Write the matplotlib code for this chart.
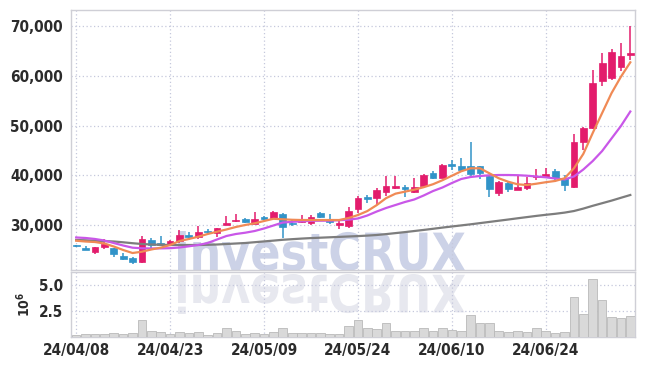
import numpy as np
import matplotlib
matplotlib.use("Agg")
from matplotlib import pyplot as plt
from matplotlib.textpath import TextPath
from matplotlib.patches import PathPatch
from matplotlib.font_manager import FontProperties
from matplotlib.transforms import Affine2D, IdentityTransform

# Dati (prezzi in KRW, volume in milioni)
tick_pos = [0, 10, 20, 30, 40, 50]
tick_labels = ["24/04/08", "24/04/23", "24/05/09", "24/05/24", "24/06/10", "24/06/24"]

opens = [25900, 25300, 24500, 25600, 25300, 23800, 23400, 22500, 27000, 26300,
         25900, 26800, 28000, 27500, 28800, 28400, 30000, 30750, 31300, 30300,
         31600, 31500, 32300, 30450, 30700, 30350, 32450, 31150, 30050, 29800,
         33200, 35700, 35350, 36550, 37500, 37700, 36700, 37900, 40400, 39500,
         42200, 41800, 41850, 41850, 39800, 36450, 38450, 37100, 37500, 39600,
         39650, 40900, 39400, 37650, 46650, 49450, 58850, 59500, 61850, 64200]
highs = [25950, 25700, 25600, 27100, 25400, 24300, 23500, 27700, 27400, 27800,
         26900, 29000, 28600, 29700, 29200, 29400, 31900, 32150, 31500, 32550,
         31800, 32800, 32400, 31000, 31950, 31950, 32600, 32150, 30800, 33550,
         35800, 36000, 37500, 39800, 39900, 38050, 39400, 40200, 40850, 42200,
         43050, 43400, 46750, 41900, 39900, 38800, 38550, 40050, 39700, 41200,
         41500, 41250, 40050, 48250, 49600, 61150, 64500, 65400, 66550, 70050]
lows = [25500, 24950, 24200, 25100, 23600, 22950, 22100, 22400, 25300, 25800,
        25800, 26300, 27000, 27100, 28100, 27650, 29900, 30550, 30500, 30200,
        31000, 31300, 27300, 29800, 30500, 29900, 31400, 30200, 29250, 29350,
        32350, 34500, 34000, 35900, 37200, 35700, 36500, 37800, 39200, 39400,
        41050, 40700, 39500, 39200, 35700, 35900, 36550, 37000, 37050, 38950,
        39600, 38700, 36850, 37350, 45050, 49300, 58000, 59150, 60950, 63150]
closes = [25700, 25000, 25500, 26100, 24100, 23100, 22500, 27200, 26000, 25900,
          26800, 28000, 27500, 28500, 28600, 29300, 30500, 31050, 30700, 31200,
          31200, 32700, 29600, 30150, 31000, 31550, 31550, 30550, 30350, 32750,
          35350, 35300, 37050, 37900, 37900, 37250, 37700, 40050, 39400, 42050,
          41850, 41000, 40250, 40400, 37250, 38600, 37300, 37650, 38450, 39850,
          40250, 39400, 38050, 46600, 49450, 58500, 62500, 64700, 63900, 64550]

ma_short = [26840, 26680, 26580, 26280, 25680, 24980, 24370, 24630, 25080, 25440,
            25980, 26780, 27190, 27650, 28190, 28650, 29100, 29600, 30000, 30340,
            30800, 31250, 31150, 31050, 31000, 31000, 31000, 31000, 31000, 31400,
            32000, 32800, 34000, 35400, 36300, 36700, 37100, 37600, 38200, 39000,
            39900, 40800, 41400, 41400, 40390, 39390, 38700, 38180, 38040, 38300,
            38600, 38850, 39390, 41400, 44300, 48500, 52500, 56500, 59800, 62700]
ma_mid = [27490, 27390, 27190, 26880, 26380, 25880, 25440, 25320, 25280, 25300,
          25340, 25480, 25720, 25980, 26380, 27090, 27790, 28190, 28450, 28790,
          29300, 29900, 30500, 30640, 30740, 30840, 30860, 30880, 30960, 31070,
          31310, 31910, 32710, 33420, 34020, 34620, 35130, 35930, 36830, 37540,
          38440, 39250, 39650, 39850, 39990, 40050, 40050, 40010, 39910, 39750,
          39590, 39350, 39150, 39750, 41160, 42860, 44870, 47390, 49900, 52810]
ma_long = [26985, 26925, 26845, 26765, 26685, 26525, 26340, 26180, 26080, 26020,
           25980, 25980, 25980, 25980, 26020, 26080, 26180, 26280, 26380, 26540,
           26700, 26860, 27030, 27150, 27270, 27370, 27450, 27530, 27610, 27690,
           27770, 27870, 27990, 28170, 28370, 28570, 28790, 29010, 29240, 29480,
           29700, 29920, 30140, 30380, 30620, 30860, 31100, 31350, 31590, 31830,
           32050, 32250, 32490, 32810, 33300, 33860, 34380, 34900, 35470, 36030]

volume = [0.16, 0.28, 0.28, 0.28, 0.38, 0.28, 0.38, 1.6, 0.6, 0.47,
          0.28, 0.47, 0.38, 0.47, 0.19, 0.38, 0.9, 0.62, 0.28, 0.38,
          0.28, 0.47, 0.9, 0.38, 0.38, 0.38, 0.38, 0.28, 0.28, 1.03,
          1.6, 0.84, 0.75, 1.31, 0.6, 0.6, 0.6, 0.9, 0.6, 0.84,
          0.69, 0.6, 2.16, 1.31, 1.4, 0.6, 0.5, 0.6, 0.5, 0.84,
          0.6, 0.38, 0.5, 3.84, 2.25, 5.6, 3.56, 1.97, 1.88, 2.06]


def main() -> None:

    W, H = 645, 366
    plt.rcParams["font.family"] = ["DejaVu Sans"]
    plt.rcParams["font.stretch"] = "condensed"
    plt.rcParams["font.weight"] = "bold"

    fig = plt.figure(figsize=(W / 100, H / 100), dpi=100)
    fig.patch.set_facecolor("white")

    ax = fig.add_axes([71 / W, 1 - 270 / H, 564 / W, 260 / H])
    axv = fig.add_axes([71 / W, 1 - 337 / H, 564 / W, 65 / H], sharex=ax)

    c_up = "#e31c6c"
    c_down = "#3193c8"
    grid_c = "#c5c8dc"
    spine_c = "#cfcfd6"
    txt_c = "#2b2b2b"

    # Watermark (dietro agli assi)
    fp = FontProperties(family="DejaVu Sans", weight="bold", stretch="normal")
    tp = TextPath((0, 0), "investCRUX", size=1, prop=fp)
    ext = tp.get_extents()
    sx = 287 / ext.width
    sy = 40 / ext.height
    x0 = 178 - ext.x0 * sx
    tr_main = Affine2D().scale(sx, sy).translate(x0, H - 271 - ext.y0 * sy)
    tr_refl = Affine2D().scale(sx, -sy).translate(x0, H - 274 + ext.y0 * sy)
    wm = PathPatch(tr_main.transform_path(tp), facecolor="#ccd2e7",
                   edgecolor="none", transform=IdentityTransform(), zorder=-2)
    wm2 = PathPatch(tr_refl.transform_path(tp), facecolor="#e7e8ef",
                    edgecolor="none", transform=IdentityTransform(), zorder=-2)
    fig.add_artist(wm)
    fig.add_artist(wm2)

    x = np.arange(len(closes))
    o = np.array(opens)
    c = np.array(closes)
    colors = [c_up if cc >= oo else c_down for oo, cc in zip(o, c)]

    # Candele
    ax.vlines(x, lows, highs, colors=colors, linewidth=1.1, zorder=3)
    bottoms = np.minimum(o, c)
    heights = np.maximum(np.abs(c - o), 180)
    ax.bar(x, heights, bottom=bottoms, width=0.72, color=colors,
           edgecolor=colors, linewidth=0.5, zorder=4)

    # Medie mobili
    ax.plot(x, ma_long, color="#7d7d7d", linewidth=1.6, zorder=5)
    ax.plot(x, ma_mid, color="#c957e8", linewidth=1.6, zorder=5)
    ax.plot(x, ma_short, color="#f08a55", linewidth=1.6, zorder=6)

    ax.set_xlim(-0.55, 59.5)
    ax.set_ylim(20955, 73216)
    ax.set_yticks([30000, 40000, 50000, 60000, 70000])
    ax.set_yticklabels(["30,000", "40,000", "50,000", "60,000", "70,000"])
    ax.set_xticks(tick_pos)
    ax.tick_params(axis="x", labelbottom=False, length=0)
    ax.tick_params(axis="y", length=0, pad=6, labelsize=11, labelcolor=txt_c)

    # Volume
    axv.bar(x, volume, width=0.92, color="#d9d9d9", edgecolor="#b9b9b9",
            linewidth=0.6, zorder=3)
    axv.set_ylim(0, 6.3)
    axv.set_yticks([2.5, 5.0])
    axv.set_yticklabels(["2.5", "5.0"])
    axv.set_xticks(tick_pos)
    axv.set_xticklabels(tick_labels)
    axv.tick_params(axis="both", length=0, labelsize=11, labelcolor=txt_c)
    axv.tick_params(axis="y", pad=6)
    axv.tick_params(axis="x", pad=4)
    axv.set_ylabel(r"$10^6$", fontsize=10, color=txt_c)
    axv.yaxis.set_label_coords(-0.068, 0.5)

    for a in (ax, axv):
        a.set_facecolor("none")
        a.grid(True, linestyle=(0, (1, 2)), color=grid_c, linewidth=0.9, zorder=0)
        a.set_axisbelow(True)
        for s in a.spines.values():
            s.set_color(spine_c)
            s.set_linewidth(1.0)

    plt.savefig("out.png", dpi=100, facecolor="white")

    return


if __name__ == "__main__":
    main()
